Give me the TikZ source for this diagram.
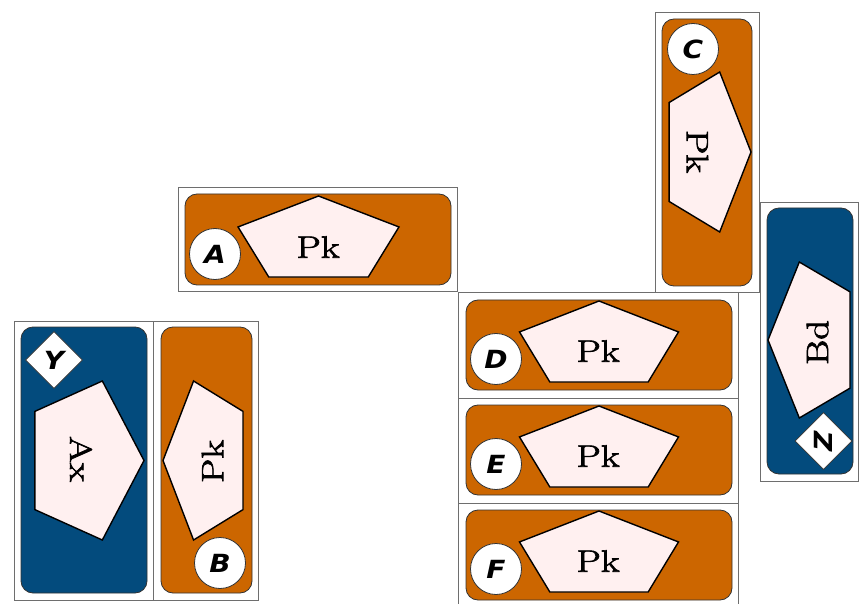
\documentclass[tikz,border=0pt]{standalone}
\usepackage{fontspec}
\newfontfamily\labfont{DejaVu Sans}
\newfontfamily\pkfont{Latin Modern Roman}[FakeBold=2]
\usetikzlibrary{shapes.geometric}
\definecolor{cardorange}{RGB}{204,102,0}
\definecolor{cardblue}{RGB}{3,75,125}
\definecolor{pentfill}{RGB}{255,240,240}
\definecolor{framegray}{RGB}{110,110,110}
\newcommand\wide[1]{\scalebox{1.25}[1]{#1}}
\newcommand\lwide[1]{\scalebox{1.12}[1]{#1}}
\newcommand\pentshape[5]{%
  \begin{scope}[shift={(#1,#2)}]
    \draw[pent] (#5:#3 and #4) -- (#5+72:#3 and #4) -- (#5+144:#3 and #4)
      -- (#5+216:#3 and #4) -- (#5+288:#3 and #4) -- cycle;
  \end{scope}}
\begin{document}
\begin{tikzpicture}[x=1pt,y=-1pt,
  frame/.style={draw=framegray, line width=0.9pt},
  orangecard/.style={draw=black!80, line width=0.8pt, fill=cardorange, rounded corners=12pt},
  bluecard/.style={draw=black!80, line width=0.8pt, fill=cardblue, rounded corners=12pt},
  pent/.style={draw=black, line width=1.4pt, fill=pentfill, line join=miter},
  ptext/.style={font=\pkfont\fontsize{31}{31}\selectfont, inner sep=0pt},
  badge/.style={circle, draw=black!80, line width=0.8pt, fill=white, minimum size=51pt, inner sep=0pt,
    font=\labfont\fontsize{25}{25}\selectfont\bfseries\itshape},
  dia/.style={diamond, draw=black!80, line width=0.8pt, fill=white, minimum width=57pt, minimum height=57pt,
    inner sep=0pt, font=\labfont\fontsize{25}{25}\selectfont\bfseries\itshape}]
\useasboundingbox (0,0) rectangle (860,604);

% ---- A card
\draw[frame] (178,187) rectangle (457,291);
\draw[orangecard] (185,194) rectangle (451,285);
\pentshape{318.5}{240.8}{84.6}{44.8}{270}
\node[ptext] (pA) at (318,247) {\wide{Pk}};
\node[badge] (bA) at (215,254) {\lwide{A}};

% ---- Y / Ax card
\draw[frame] (14,321) rectangle (153,600);
\draw[bluecard] (21,327) rectangle (147,593);
\pentshape{83.7}{460.5}{60.3}{83.6}{0}
\node[ptext, rotate=-90] (ax) at (81,459) {\wide{Ax}};
\node[dia] (dY) at (54,360) {\lwide{Y}};

% ---- B card
\draw[frame] (153,321) rectangle (258,600);
\draw[orangecard] (161,327) rectangle (252,593);
\pentshape{207.2}{460.5}{44.2}{83.6}{180}
\node[ptext, rotate=90] (pB) at (212.5,461.5) {\wide{Pk}};
\node[badge] (bB) at (220,563) {\lwide{B}};

% ---- C card
\draw[frame] (655,12) rectangle (759,292);
\draw[orangecard] (662,19) rectangle (752,286);
\pentshape{705.7}{152}{45.3}{84.1}{0}
\node[ptext, rotate=-90] (pC) at (697.5,151.5) {\wide{Pk}};
\node[badge] (bC) at (693,49) {\lwide{C}};

% ---- Bd card
\draw[frame] (760,202) rectangle (858,481);
\draw[bluecard] (767,208) rectangle (853,474);
\pentshape{813.3}{340}{45.3}{82}{180}
\node[ptext, rotate=90] (bd) at (817.5,342.5) {\wide{Bd}};
\node[dia, rotate=90] (dZ) at (823.5,441) {\lwide{Z}};

% ---- D card
\draw[frame] (458,292) rectangle (738,398);
\draw[orangecard] (466,300) rectangle (732,390);
\pentshape{599}{345.8}{83.6}{44.8}{270}
\node[ptext] (pD) at (598,351) {\wide{Pk}};
\node[badge] (bD) at (496,359) {\lwide{D}};

% ---- E card
\draw[frame] (458,398) rectangle (738,503);
\draw[orangecard] (466,405) rectangle (732,495);
\pentshape{599}{450.8}{83.6}{44.8}{270}
\node[ptext] (pE) at (598,456) {\wide{Pk}};
\node[badge] (bE) at (496,464) {\lwide{E}};

% ---- F card
\draw[frame] (458,503) rectangle (738,612);
\draw[orangecard] (466,510) rectangle (732,600);
\pentshape{599}{555.8}{83.6}{44.8}{270}
\node[ptext] (pF) at (598,561) {\wide{Pk}};
\node[badge] (bF) at (496,569) {\lwide{F}};
\end{tikzpicture}
\end{document}
